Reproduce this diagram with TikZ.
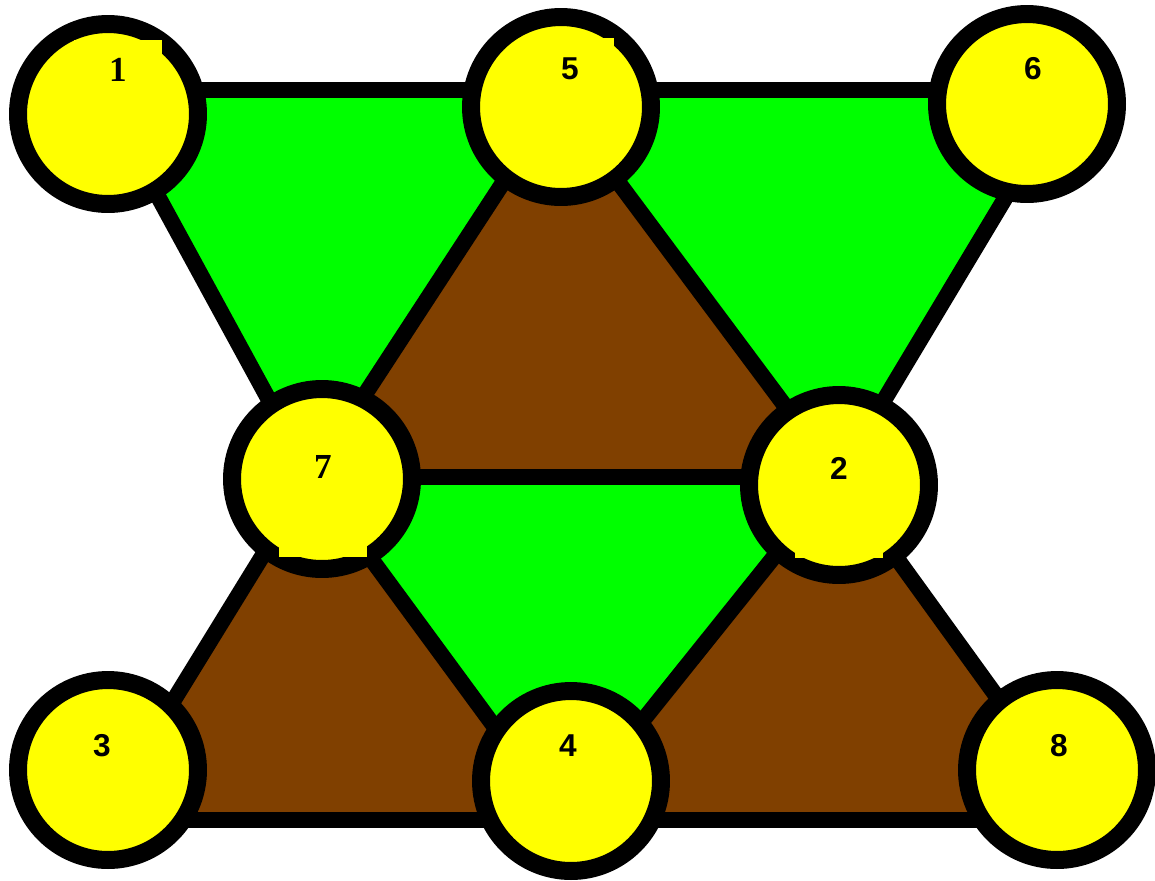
\documentclass[tikz,border=0pt]{standalone}
\usepackage{fontspec}
\setmainfont{Liberation Serif}
\setsansfont{Liberation Sans}
\usetikzlibrary{positioning}
\definecolor{gpgreen}{HTML}{00FF00}
\definecolor{gpbrown}{HTML}{804000}
\definecolor{gpyellow}{HTML}{FFFF00}

\begin{document}
\begin{tikzpicture}[
  x=0.02cm, y=-0.02cm,
  vertex/.style={circle, draw=black, line width=0.36cm, fill=gpyellow,
    minimum size=3.6cm, inner sep=0pt},
  numlbl/.style={inner sep=0pt, anchor=base,
    font=\sffamily\bfseries\fontsize{18}{20}\selectfont},
  boxlbl/.style={numlbl, fill=gpyellow, minimum width=1.76cm,
    text height=0.82cm, text depth=1.58cm},
  seriflbl/.style={boxlbl, font=\rmfamily\bfseries\fontsize{20}{22}\selectfont},
  link/.style={draw=black, line width=0.32cm},
  greenface/.style={fill=gpgreen},
  brownface/.style={fill=gpbrown},
  ]
  \useasboundingbox[fill=white] (0,0) rectangle (1155,880);

  % Junctions where the edges meet (hidden under the circles).
  \coordinate (j1) at (100,90);
  \coordinate (j5) at (557,100);
  \coordinate (j6) at (1070,90);
  \coordinate (j7) at (311,477);
  \coordinate (j2) at (838,477);
  \coordinate (j3) at (100,820);
  \coordinate (j4) at (563,820);
  \coordinate (j8) at (1086,820);

  % Faces.
  \fill[greenface] (j1) -- (j5) -- (j7) -- cycle;
  \fill[greenface] (j5) -- (j6) -- (j2) -- cycle;
  \fill[brownface] (j5) -- (j7) -- (j2) -- cycle;
  \fill[greenface] (j7) -- (j2) -- (j4) -- cycle;
  \fill[brownface] (j7) -- (j3) -- (j4) -- cycle;
  \fill[brownface] (j2) -- (j4) -- (j8) -- cycle;

  % Edges.
  \draw[link] (j1) -- (j6);
  \draw[link] (j7) -- (j2);
  \draw[link] (j3) -- (j8);
  \foreach \a/\b in {j1/j7, j5/j7, j5/j2, j6/j2, j7/j3, j7/j4, j2/j4, j2/j8}
    \draw[link] (\a) -- (\b);

  % Vertices.
  \node[vertex] (n1) at (108,114) {};
  \node[vertex] (n5) at (561,107) {};
  \node[vertex] (n6) at (1027,104) {};
  \node[vertex] (n7) at (322,479) {};
  \node[vertex] (n2) at (839,485) {};
  \node[vertex] (n3) at (108,770) {};
  \node[vertex] (n4) at (571,781) {};
  \node[vertex] (n8) at (1057,770) {};

  % Numbers.
  \node[seriflbl] (l1) at (118,81) {1};
  \node[boxlbl] (l5) at (570,79) {5};
  \node[numlbl] (l6) at (1033,79) {6};
  \node[seriflbl] (l7) at (323,478) {7};
  \node[boxlbl] (l2) at (839,479) {2};
  \node[numlbl] (l3) at (102,756) {3};
  \node[numlbl] (l4) at (568,756) {4};
  \node[numlbl] (l8) at (1059,756) {8};
\end{tikzpicture}
\end{document}
